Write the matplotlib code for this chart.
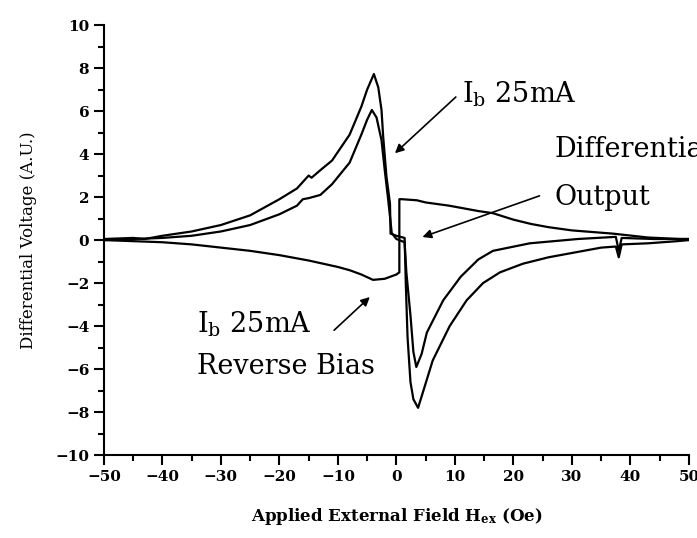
import matplotlib
matplotlib.use('Agg')
import matplotlib.pyplot as plt
from matplotlib.ticker import MultipleLocator

plt.rcParams['mathtext.fontset'] = 'dejavuserif'

# field (Oe) and differential voltage (A.U.)
h_outer = [-50, -45, -43, -40, -35, -30, -25, -20, -17, -16, -15, -14.5, -13, -11, -8, -6, -5, -3.85,
           -3.1, -2.55, -2.26, -1.7, -1.1, -1.0, 0.0, 1.4, 1.6, 1.9, 2.4, 2.9, 3.7, 4.5, 6.2, 9.1,
           12, 14.8, 17.7, 21.6, 26, 30, 35, 37.5, 38, 38.5, 43, 48, 50]
v_outer = [0.05, 0.1, 0.05, 0.2, 0.4, 0.7, 1.15, 1.9, 2.4, 2.7, 3.0, 2.9, 3.25, 3.7, 4.9, 6.2, 7.0, 7.72,
           7.1, 6.05, 4.8, 2.95, 1.7, 0.3, 0.2, 0.1, -2.0, -4.5, -6.6, -7.4, -7.8, -7.1, -5.6, -4.0,
           -2.8, -2.0, -1.5, -1.1, -0.8, -0.6, -0.35, -0.3, -0.8, -0.2, -0.15, -0.05, 0.0]

h_inner = [-50, -45, -40, -35, -30, -25, -20, -17, -16, -15, -13, -11, -8, -6, -5, -4.2,
           -3.4, -2.55, -2.0, -1.4, -0.8, 0.0, 1.4, 1.7, 2.4, 2.9, 3.4, 4.3, 5.2, 8, 11, 14,
           16.5, 22.8, 31, 37.5, 38, 38.5, 44, 50]
v_inner = [0.0, 0.05, 0.1, 0.2, 0.4, 0.7, 1.2, 1.6, 1.9, 1.95, 2.1, 2.6, 3.6, 4.9, 5.6, 6.05,
           5.7, 4.65, 3.26, 1.86, 0.33, 0.05, -0.1, -1.5, -3.5, -5.2, -5.9, -5.3, -4.3, -2.8, -1.7, -0.9,
           -0.5, -0.15, 0.05, 0.15, -0.5, 0.1, 0.05, 0.05]

h_rev = [-50, -45, -40, -35, -30, -25, -20, -15, -10, -8, -6, -4, -2, 0, 0.5,
         0.5, 1, 3.5, 5, 9, 14, 16.5, 20, 23, 26, 30, 37, 43, 48.5, 50]
v_rev = [0.0, -0.05, -0.1, -0.2, -0.35, -0.5, -0.7, -0.95, -1.25, -1.4, -1.6, -1.85, -1.8, -1.6, -1.5,
         1.9, 1.9, 1.85, 1.75, 1.6, 1.35, 1.25, 0.95, 0.75, 0.6, 0.45, 0.3, 0.12, 0.05, 0.05]

fig = plt.figure(figsize=(6.97, 5.38), dpi=100)
ax = fig.add_axes([0.149, 0.154, 0.8395, 0.7995])

ax.plot(h_outer, v_outer, color='black', lw=1.6)
ax.plot(h_inner, v_inner, color='black', lw=1.6)
ax.plot(h_rev, v_rev, color='black', lw=1.6)

ax.set_xlim(-50, 50)
ax.set_ylim(-10, 10)
ax.xaxis.set_major_locator(MultipleLocator(10))
ax.xaxis.set_minor_locator(MultipleLocator(5))
ax.yaxis.set_major_locator(MultipleLocator(2))
ax.yaxis.set_minor_locator(MultipleLocator(1))
ax.spines['top'].set_visible(False)
ax.spines['right'].set_visible(False)
for s in ['left', 'bottom']:
    ax.spines[s].set_linewidth(1.5)
ax.tick_params(which='major', direction='out', length=7, width=1.5)
ax.tick_params(which='minor', direction='out', length=4, width=1.5)
for lab in ax.get_xticklabels() + ax.get_yticklabels():
    lab.set_family('DejaVu Serif')
    lab.set_fontweight('bold')
    lab.set_fontsize(11)

ax.set_xlabel(r'Applied External Field H$_{\mathbf{ex}}$ (Oe)', family='DejaVu Serif',
              fontweight='bold', fontsize=12, labelpad=16)
ax.set_ylabel('Differential Voltage (A.U.)', family='DejaVu Serif', fontsize=12, labelpad=13)

tkw = dict(family='DejaVu Serif', fontsize=19.5, va='center', ha='left')
ax.text(11.2, 6.8, r'I$_{\mathrm{b}}$ 25mA', **tkw)
ax.text(27.0, 4.2, 'Differential', clip_on=False, **tkw)
ax.text(27.0, 2.0, 'Output', **tkw)
ax.text(-34.1, -3.9, r'I$_{\mathrm{b}}$ 25mA', **tkw)
ax.text(-34.1, -5.9, 'Reverse Bias', **tkw)

akw = dict(arrowstyle='-|>', color='black', lw=1.2, mutation_scale=13)
ax.annotate('', xy=(-0.6, 3.95), xytext=(10.5, 6.74), arrowprops=akw)
ax.annotate('', xy=(4.0, 0.1), xytext=(24.9, 2.1), arrowprops=akw)
ax.annotate('', xy=(-4.2, -2.56), xytext=(-11.0, -4.28), arrowprops=akw)

fig.savefig('out.png', dpi=100)
